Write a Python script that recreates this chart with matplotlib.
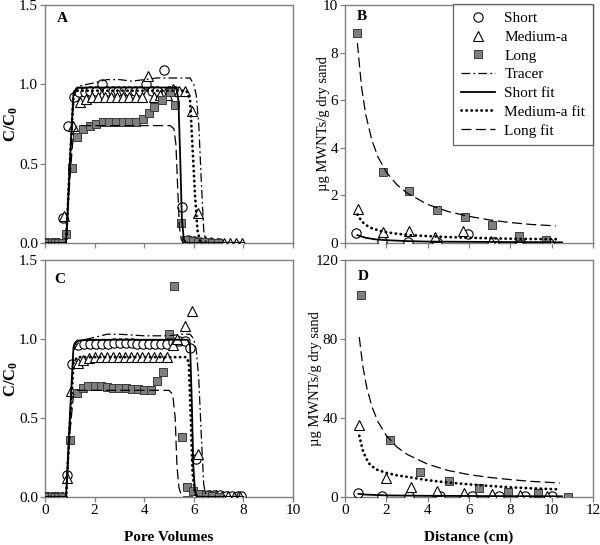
import matplotlib
matplotlib.use("Agg")
import matplotlib.pyplot as plt
from matplotlib.lines import Line2D

plt.rcParams['font.family'] = ['Liberation Serif', 'DejaVu Serif']
plt.rcParams['mathtext.fontset'] = 'custom'
plt.rcParams['mathtext.rm'] = 'Liberation Serif'
plt.rcParams['mathtext.bf'] = 'Liberation Serif:bold'

# ---------------- Panel A (breakthrough, C/C0 vs pore volumes) ----------------
a_short_x = [0, 0.13, 0.27, 0.4, 0.53, 0.73, 0.94, 1.15, 1.38, 1.6, 1.83, 2.05, 2.28, 2.5, 2.73, 2.95,
             3.18, 3.4, 3.63, 3.85, 4.08, 4.3, 4.53, 4.78, 5.0, 5.25, 5.52, 5.75, 6.0, 6.25, 6.5, 6.75, 7.0]
a_short_y = [0, 0, 0, 0, 0, 0.16, 0.74, 0.92, 0.95, 0.95, 0.96, 0.96, 1.0, 0.96, 0.96, 0.96,
             0.96, 0.96, 0.96, 0.96, 1.0, 0.96, 0.96, 1.09, 0.96, 0.96, 0.23, 0.02, 0.01, 0.005, 0, 0, 0]
a_med_x = [0, 0.13, 0.27, 0.4, 0.53, 0.75, 1.14, 1.41, 1.65, 1.9, 2.15, 2.4, 2.65, 2.9, 3.15, 3.4, 3.65,
           3.9, 4.17, 4.4, 4.65, 4.9, 5.15, 5.4, 5.66, 5.93, 6.18, 6.45, 6.7, 6.95, 7.2, 7.45, 7.7, 7.95]
a_med_y = [0, 0, 0, 0, 0, 0.17, 0.74, 0.89, 0.91, 0.92, 0.92, 0.92, 0.92, 0.92, 0.92, 0.92, 0.92,
           0.92, 1.05, 0.92, 0.93, 0.93, 0.97, 0.96, 0.96, 0.83, 0.19, 0.01, 0.005, 0, 0, 0, 0, 0]
a_long_x = [0, 0.13, 0.27, 0.4, 0.53, 0.67, 0.85, 1.1, 1.28, 1.55, 1.8, 2.07, 2.34, 2.6, 2.87, 3.14,
            3.4, 3.67, 3.94, 4.2, 4.38, 4.7, 5.04, 5.24, 5.5, 5.7, 5.97, 6.17, 6.45, 6.73, 6.98]
a_long_y = [0, 0, 0, 0, 0, 0, 0.055, 0.47, 0.67, 0.72, 0.74, 0.75, 0.76, 0.765, 0.765, 0.765,
            0.765, 0.765, 0.78, 0.82, 0.86, 0.90, 0.95, 0.87, 0.125, 0.02, 0.01, 0.005, 0.005, 0, 0]

a_tracer_fx = [0, 0.85, 1.0, 1.15, 1.4, 2.0, 2.5, 3.0, 3.5, 4.0, 4.5, 5.0, 5.5, 5.85, 6.0, 6.1, 6.2, 6.3, 6.4, 6.5, 8.0]
a_tracer_fy = [0, 0, 0.45, 0.93, 0.99, 1.01, 1.03, 1.03, 1.02, 1.03, 1.04, 1.04, 1.04, 1.04, 1.0, 0.93, 0.75, 0.4, 0.08, 0, 0]
a_short_fx = [0, 0.85, 1.0, 1.15, 1.3, 2.0, 5.3, 5.38, 5.45, 5.52, 5.6, 5.7, 8.0]
a_short_fy = [0, 0, 0.5, 0.95, 0.98, 0.98, 0.98, 0.9, 0.55, 0.15, 0.02, 0, 0]
a_med_fx = [0, 0.85, 1.0, 1.15, 1.3, 2.0, 5.7, 5.85, 5.95, 6.05, 6.15, 6.25, 6.4, 8.0]
a_med_fy = [0, 0, 0.5, 0.93, 0.96, 0.96, 0.96, 0.9, 0.6, 0.3, 0.08, 0.01, 0, 0]
a_long_fx = [0, 0.85, 1.0, 1.15, 1.3, 2.0, 5.05, 5.2, 5.28, 5.35, 5.42, 5.5, 5.6, 8.0]
a_long_fy = [0, 0, 0.4, 0.7, 0.74, 0.74, 0.74, 0.72, 0.62, 0.35, 0.1, 0.02, 0, 0]

# ---------------- Panel C ----------------
c_short_x = [0, 0.13, 0.27, 0.4, 0.53, 0.67, 0.87, 1.08, 1.33, 1.57, 1.81, 2.05, 2.29, 2.53, 2.77, 3.01,
             3.25, 3.49, 3.73, 3.97, 4.21, 4.45, 4.69, 4.93, 5.17, 5.41, 5.63, 5.85, 6.09, 6.33, 6.57,
             6.81, 7.05, 7.29, 7.53, 7.77, 7.9]
c_short_y = [0, 0, 0, 0, 0, 0, 0.14, 0.84, 0.96, 0.97, 0.97, 0.97, 0.97, 0.97, 0.975, 0.975,
             0.975, 0.975, 0.97, 0.97, 0.97, 0.97, 0.97, 0.97, 0.98, 0.99, 0.99, 0.94, 0.24, 0.01, 0.01,
             0.01, 0.01, 0.005, 0.005, 0.005, 0.005]
c_med_x = [0, 0.13, 0.27, 0.4, 0.53, 0.67, 0.87, 1.05, 1.33, 1.53, 1.77, 2.01, 2.25, 2.49, 2.73, 2.97,
           3.21, 3.45, 3.69, 3.93, 4.17, 4.41, 4.65, 4.9, 5.15, 5.33, 5.64, 5.91, 6.18, 6.42, 6.66,
           6.9, 7.14, 7.38, 7.62, 7.86]
c_med_y = [0, 0, 0, 0, 0, 0, 0.12, 0.67, 0.85, 0.87, 0.88, 0.885, 0.885, 0.885, 0.885, 0.885,
           0.885, 0.885, 0.885, 0.885, 0.885, 0.885, 0.885, 0.885, 0.965, 1.0, 1.08, 1.18, 0.275, 0.02, 0.01,
           0.01, 0.005, 0.005, 0, 0]
c_long_x = [0, 0.13, 0.27, 0.4, 0.53, 0.67, 1.0, 1.28, 1.52, 1.75, 2.0, 2.27, 2.5, 2.75, 3.0, 3.25,
            3.5, 3.77, 4.0, 4.27, 4.5, 4.74, 5.0, 5.2, 5.51, 5.74, 5.98, 6.25, 6.5, 6.75, 7.0]
c_long_y = [0, 0, 0, 0, 0, 0, 0.36, 0.655, 0.69, 0.70, 0.70, 0.70, 0.695, 0.69, 0.69, 0.69,
            0.685, 0.685, 0.68, 0.68, 0.735, 0.79, 1.03, 1.335, 0.38, 0.065, 0.04, 0.02, 0.01, 0.005, 0]

c_tracer_fx = [0, 0.85, 1.0, 1.15, 1.4, 2.0, 2.5, 3.0, 4.0, 5.0, 5.5, 5.85, 6.0, 6.1, 6.2, 6.3, 6.4, 6.5, 8.0]
c_tracer_fy = [0, 0, 0.45, 0.93, 0.99, 1.01, 1.03, 1.03, 1.02, 1.02, 1.03, 1.03, 1.0, 0.93, 0.75, 0.4, 0.08, 0, 0]
c_short_fx = [0, 0.85, 1.0, 1.15, 1.3, 2.0, 5.75, 5.85, 5.92, 5.98, 6.05, 6.15, 8.0]
c_short_fy = [0, 0, 0.5, 0.95, 0.99, 0.995, 0.995, 0.96, 0.6, 0.2, 0.03, 0, 0]
c_med_fx = [0, 0.85, 1.0, 1.15, 1.3, 2.0, 5.7, 5.8, 5.88, 5.95, 6.05, 6.15, 8.0]
c_med_fy = [0, 0, 0.45, 0.85, 0.885, 0.885, 0.885, 0.85, 0.5, 0.15, 0.02, 0, 0]
c_long_fx = [0, 0.85, 1.0, 1.15, 1.3, 2.0, 5.0, 5.15, 5.25, 5.32, 5.4, 5.5, 5.6, 8.0]
c_long_fy = [0, 0, 0.4, 0.65, 0.675, 0.675, 0.675, 0.65, 0.5, 0.2, 0.06, 0.01, 0, 0]

# ---------------- Panel B (retention profile) ----------------
b_short_x = [0.53, 1.77, 3.07, 4.43, 5.97, 7.2, 8.47, 9.89]
b_short_y = [0.42, 0.07, 0.04, 0.04, 0.38, 0.03, 0.03, 0.02]
b_med_x = [0.62, 1.86, 3.09, 4.37, 5.69, 7.05, 8.44, 9.74]
b_med_y = [1.44, 0.48, 0.5, 0.26, 0.51, 0.1, 0.1, 0.07]
b_long_x = [0.6, 1.85, 3.12, 4.47, 5.8, 7.1, 8.43, 9.72]
b_long_y = [8.81, 2.97, 2.18, 1.39, 1.1, 0.76, 0.29, 0.14]

b_short_fx = [0.6, 1.0, 1.5, 2.0, 3.0, 4.0, 6.0, 8.0, 10.5]
b_short_fy = [0.33, 0.22, 0.15, 0.12, 0.08, 0.06, 0.05, 0.04, 0.03]
b_med_fx = [0.6, 0.8, 1.0, 1.3, 1.8, 2.5, 3.2, 4.0, 5.0, 6.0, 7.0, 8.0, 9.0, 10.2]
b_med_fy = [1.2, 0.92, 0.76, 0.62, 0.48, 0.39, 0.33, 0.29, 0.25, 0.22, 0.2, 0.18, 0.17, 0.16]
b_long_fx = [0.6, 0.8, 1.0, 1.3, 1.6, 2.0, 2.5, 3.0, 4.0, 5.0, 6.0, 7.0, 8.0, 9.0, 10.2]
b_long_fy = [8.4, 6.55, 5.41, 4.32, 3.61, 2.98, 2.46, 2.1, 1.62, 1.32, 1.12, 0.97, 0.86, 0.78, 0.72]

# ---------------- Panel D ----------------
d_short_x = [0.65, 1.77, 3.1, 4.6, 6.13, 7.47, 8.71, 10.0]
d_short_y = [1.8, 0.3, 0.3, 0.3, 0.3, 0.3, 0.3, 0.3]
d_med_x = [0.69, 1.97, 3.19, 4.43, 5.76, 7.1, 8.47, 9.76]
d_med_y = [36.3, 9.7, 4.9, 3.2, 2.2, 1.5, 1.0, 0.7]
d_long_x = [0.77, 2.2, 3.62, 5.03, 6.47, 7.9, 9.33, 10.78]
d_long_y = [102.1, 28.6, 12.4, 8.2, 4.4, 2.5, 2.0, 0.2]

d_short_fx = [0.65, 1.0, 2.0, 4.0, 6.0, 8.0, 10.5]
d_short_fy = [1.6, 1.2, 0.8, 0.6, 0.5, 0.4, 0.35]
d_med_fx = [0.69, 0.85, 1.0, 1.2, 1.5, 2.0, 2.5, 3.0, 4.0, 5.0, 6.0, 7.0, 8.0, 9.0, 10.3]
d_med_fy = [31, 24, 20, 16.5, 14, 12.2, 11, 10.2, 8.5, 7.3, 6.4, 5.6, 4.9, 4.4, 3.9]
d_long_fx = [0.69, 0.85, 1.05, 1.3, 1.6, 2.0, 2.5, 3.0, 4.0, 5.0, 6.0, 7.0, 8.0, 9.0, 10.4]
d_long_fy = [81, 67, 55.5, 45.8, 38.0, 31.1, 25.4, 21.6, 16.6, 13.4, 11.3, 9.9, 8.8, 7.9, 7.1]

legend_labels = ['Short', 'Medium-a', 'Long', 'Tracer', 'Short fit', 'Medium-a fit', 'Long fit']

# ---------------- styles ----------------
GRAY = '#808080'
FS = 11
circ = dict(marker='o', ms=6.7, mfc='white', mec='black', mew=0.8, ls='none')
tri = dict(marker='^', ms=7.2, mfc='white', mec='black', mew=0.8, ls='none')
sqr = dict(marker='s', ms=6.0, mfc='#7f7f7f', mec='#3a3a3a', mew=0.7, ls='none')
tracer_st = dict(color='black', lw=0.9, ls=(0, (7, 2.5, 1.5, 2.5)))
short_st = dict(color='black', lw=1.3, ls='-')
med_st = dict(color='black', lw=2.0, ls=(0, (0.1, 1.7)), dash_capstyle='round')
long_st = dict(color='black', lw=0.9, ls=(0, (8, 3.5)))

fig = plt.figure(figsize=(6.0, 5.45), dpi=100)
axA = fig.add_axes([0.075, 0.5541, 0.4133, 0.4367])
axB = fig.add_axes([0.575, 0.5541, 0.4133, 0.4367])
axC = fig.add_axes([0.075, 0.0881, 0.4133, 0.4349])
axD = fig.add_axes([0.575, 0.0881, 0.4133, 0.4349])


def style(ax):
    for s in ax.spines.values():
        s.set_color(GRAY)
        s.set_linewidth(1.0)
    ax.tick_params(direction='out', length=3.5, width=0.9, color=GRAY, labelsize=FS,
                   labelcolor='black', pad=1.5)


def breakthrough(ax, sx, sy, mx, my, lx, ly, fits, letter, lpos):
    ax.plot(sx, sy, zorder=3, **circ)
    ax.plot(mx, my, zorder=3, **tri)
    ax.plot(lx, ly, zorder=3, **sqr)
    for (fx, fy), st in zip(fits, [tracer_st, short_st, med_st, long_st]):
        ax.plot(fx, fy, zorder=4, **st)
    ax.set_xlim(0, 10)
    ax.set_ylim(0, 1.5)
    ax.set_xticks([0, 2, 4, 6, 8, 10])
    ax.set_yticks([0, 0.5, 1.0, 1.5])
    ax.set_yticklabels(['0.0', '0.5', '1.0', '1.5'])
    ax.set_ylabel(r'$\mathbf{C/C_0}$', fontsize=FS + 1, va='center')
    ax.yaxis.set_label_coords(-0.135, 0.5)
    ax.text(lpos[0], lpos[1], letter, transform=ax.transAxes, fontsize=FS, fontweight='bold',
            ha='center', va='center')
    style(ax)


breakthrough(axA, a_short_x, a_short_y, a_med_x, a_med_y, a_long_x, a_long_y,
             [(a_tracer_fx, a_tracer_fy), (a_short_fx, a_short_fy), (a_med_fx, a_med_fy),
              (a_long_fx, a_long_fy)], 'A', (0.068, 0.945))
axA.set_xticklabels([])

breakthrough(axC, c_short_x, c_short_y, c_med_x, c_med_y, c_long_x, c_long_y,
             [(c_tracer_fx, c_tracer_fy), (c_short_fx, c_short_fy), (c_med_fx, c_med_fy),
              (c_long_fx, c_long_fy)], 'C', (0.06, 0.916))
axC.set_xlabel('Pore Volumes', fontsize=FS, fontweight='bold', va='center')
axC.xaxis.set_label_coords(0.5, -0.169)


def profile(ax, sx, sy, mx, my, lx, ly, sf, mf, lf, ylim, yticks, letter, lpos, ylab_x):
    ax.plot(sx, sy, zorder=3, **circ)
    ax.plot(mx, my, zorder=3, **tri)
    ax.plot(lx, ly, zorder=3, **sqr)
    ax.plot(sf[0], sf[1], zorder=4, **short_st)
    ax.plot(mf[0], mf[1], zorder=4, **med_st)
    ax.plot(lf[0], lf[1], zorder=4, **long_st)
    ax.set_xlim(0, 12)
    ax.set_ylim(*ylim)
    ax.set_xticks([0, 2, 4, 6, 8, 10, 12])
    ax.set_yticks(yticks)
    ax.set_ylabel('\u00b5g MWNTs/g dry sand', fontsize=FS - 0.5, va='center')
    ax.yaxis.set_label_coords(ylab_x, 0.5)
    ax.text(lpos[0], lpos[1], letter, transform=ax.transAxes, fontsize=FS, fontweight='bold',
            ha='center', va='center')
    style(ax)


profile(axB, b_short_x, b_short_y, b_med_x, b_med_y, b_long_x, b_long_y,
        (b_short_fx, b_short_fy), (b_med_fx, b_med_fy), (b_long_fx, b_long_fy),
        (0, 10), [0, 2, 4, 6, 8, 10], 'B', (0.067, 0.951), -0.088)
axB.set_xticklabels([])

profile(axD, d_short_x, d_short_y, d_med_x, d_med_y, d_long_x, d_long_y,
        (d_short_fx, d_short_fy), (d_med_fx, d_med_fy), (d_long_fx, d_long_fy),
        (0, 120), [0, 40, 80, 120], 'D', (0.073, 0.93), -0.117)
axD.set_xlabel('Distance (cm)', fontsize=FS, fontweight='bold', va='center')
axD.xaxis.set_label_coords(0.5, -0.169)

handles = [Line2D([], [], **circ), Line2D([], [], **tri), Line2D([], [], **sqr),
           Line2D([], [], **tracer_st), Line2D([], [], **short_st),
           Line2D([], [], **med_st), Line2D([], [], **long_st)]
leg = axB.legend(handles, legend_labels, loc='upper right', bbox_to_anchor=(1.0, 1.005),
                 borderaxespad=0, fontsize=FS, frameon=True, fancybox=False,
                 handlelength=2.2, handletextpad=0.65, labelspacing=0.33, borderpad=0.5)
leg.get_frame().set_edgecolor('#404040')
leg.get_frame().set_linewidth(0.9)

fig.savefig('out.png', dpi=100)
